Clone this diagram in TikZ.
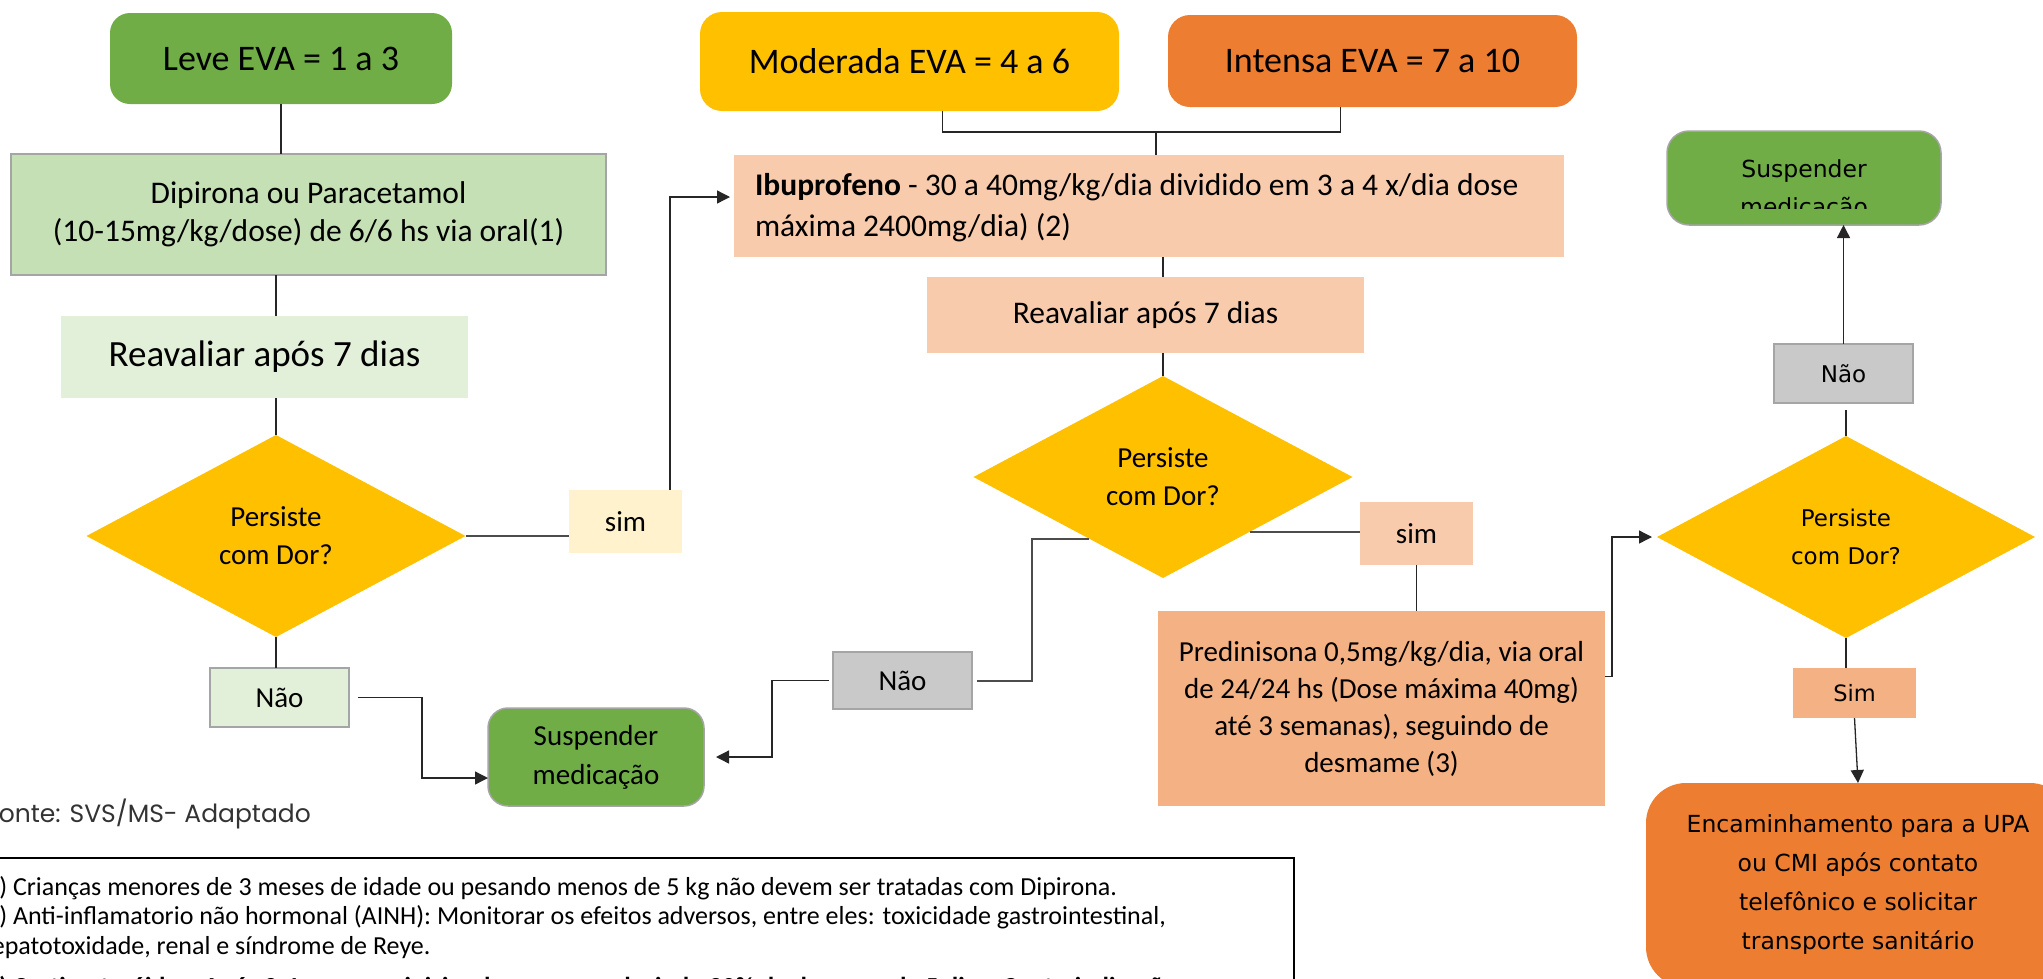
\documentclass[tikz,border=0pt]{standalone}
\usepackage{fontspec}
\setmainfont{Carlito}
\newfontfamily\verdana{DejaVu Sans}
\newfontfamily\gothic{Poppins}
\usetikzlibrary{shapes.geometric, arrows.meta}
\definecolor{cGreen}{HTML}{70AD47}
\definecolor{cGreenL}{HTML}{C5E0B4}
\definecolor{cGreenXL}{HTML}{E2F0D9}
\definecolor{cYellow}{HTML}{FFC000}
\definecolor{cYellowL}{HTML}{FFF2CC}
\definecolor{cOrange}{HTML}{ED7D31}
\definecolor{cPeach}{HTML}{F8CBAD}
\definecolor{cSalmon}{HTML}{F4B183}
\definecolor{cGray}{HTML}{C9C9C9}
\definecolor{cBorder}{HTML}{A5A5A5}
\newcommand\fsz[2]{\fontsize{#1}{#2}\selectfont}

\begin{document}
\begin{tikzpicture}[x=1pt, y=-1pt,
  box/.style={rectangle, inner sep=0pt, outer sep=0pt, align=center},
  rbox/.style={box, rounded corners=20pt},
  decision/.style={diamond, fill=cYellow, inner sep=0pt, outer sep=0pt, align=center, minimum width=379pt, minimum height=202pt},
  conn/.style={line width=1.3pt, black!85},
  connarrow/.style={conn, -{Triangle[length=13pt, width=13pt]}},
  notetext/.style={inner sep=0pt, anchor=base west, font=\fsz{26}{30}}]
  \useasboundingbox (0,0) rectangle (2043,978);

  % left column
  \node[rbox, fill=cGreen, minimum width=342pt, minimum height=91pt, font=\fsz{36}{43}] (leve) at (281,58.5) {Leve EVA = 1 a 3};
  \node[box, fill=cGreenL, draw=cBorder, line width=2pt, minimum width=595pt, minimum height=121pt, font=\fsz{31.5}{38}] (dipir) at (308.5,214.5) {Dipirona ou Paracetamol\\(10-15mg/kg/dose) de 6/6 hs via oral(1)};
  \node[box, fill=cGreenXL, minimum width=407pt, minimum height=82pt, font=\fsz{37}{44}] (reav1) at (264.5,357) {Reavaliar após 7 dias};
  \node[decision, font=\fsz{29}{38}] (dor1) at (276,536) {Persiste\\com Dor?};
  \node[box, fill=cYellowL, minimum width=113pt, minimum height=63pt, font=\fsz{29}{35}] (sim1) at (625.5,521.5) {sim};
  \node[box, fill=cGreenXL, draw=cBorder, line width=1.5pt, minimum width=139pt, minimum height=59pt, font=\fsz{29}{35}] (nao1) at (279.5,697.5) {Não};
  \node[rbox, fill=cGreen, draw=cBorder, line width=1.5pt, minimum width=216pt, minimum height=98pt, font=\fsz{29}{39}] (susp1) at (596,757) {Suspender\\medicação};

  % middle column
  \node[rbox, rounded corners=22pt, fill=cYellow, minimum width=419pt, minimum height=99pt, font=\fsz{36}{43}] (moder) at (909.5,61.5) {Moderada EVA = 4 a 6};
  \node[rbox, rounded corners=22pt, fill=cOrange, minimum width=409pt, minimum height=92pt, font=\fsz{36}{43}] (inten) at (1372.5,61) {Intensa EVA = 7 a 10};
  \node[box, fill=cPeach, minimum width=830pt, minimum height=102pt] (ibu) at (1149,206) {};
  \node[box, anchor=west, align=left, font=\fsz{31.5}{41}] (ibutxt) at ([xshift=21pt, yshift=-2pt]ibu.west) {\textbf{Ibuprofeno} - 30 a 40mg/kg/dia dividido em 3 a 4 x/dia dose\\máxima 2400mg/dia) (2)};
  \node[box, fill=cPeach, minimum width=437pt, minimum height=76pt, font=\fsz{31.5}{38}] (reav2) at (1145.5,315) {Reavaliar após 7 dias};
  \node[decision, font=\fsz{29}{38}] (dor2) at (1163,477) {Persiste\\com Dor?};
  \node[box, fill=cPeach, minimum width=113pt, minimum height=63pt, font=\fsz{29}{35}] (sim2) at (1416.5,533.5) {sim};
  \node[box, fill=cGray, draw=cBorder, line width=1.5pt, minimum width=139pt, minimum height=57pt, font=\fsz{29}{35}] (nao2) at (902.5,680.5) {Não};
  \node[box, fill=cSalmon, minimum width=447pt, minimum height=195pt, font=\fsz{29}{37}] (pred) at (1381.5,708.5) {Predinisona 0,5mg/kg/dia, via oral\\de 24/24 hs (Dose máxima 40mg)\\até 3 semanas), seguindo de\\desmame (3)};

  % right column
  \node[rbox, rounded corners=22pt, fill=cGreen, draw=cBorder, line width=1.5pt, minimum width=274pt, minimum height=94pt] (susp2) at (1804,178) {};
  \begin{scope}
    \clip (1667,131) rectangle (1941,208);
    \node[font=\verdana\fsz{23.5}{38}, align=center, inner sep=0pt] (susp2txt) at ([yshift=-12pt]susp2.center) {Suspender\\medicação};
  \end{scope}
  \node[box, fill=cGray, draw=cBorder, line width=1.5pt, minimum width=139pt, minimum height=59pt, font=\verdana\fsz{23}{28}] (nao3) at (1843.5,373.5) {Não};
  \node[decision, minimum width=378pt, font=\verdana\fsz{23}{38}] (dor3) at (1846,537) {Persiste\\com Dor?};
  \node[box, fill=cSalmon, minimum width=123pt, minimum height=50pt, font=\verdana\fsz{22.5}{28}] (sim3) at (1854.5,693) {Sim};
  \node[rbox, rounded corners=40pt, fill=cOrange, minimum width=424pt, minimum height=204pt, font=\verdana\fsz{23.5}{39}] (encam) at (1858,885) {Encaminhamento para a UPA\\ou CMI após contato\\telefônico e solicitar\\transporte sanitário};

  % connectors
  \draw[conn] (leve.south) -- (leve.south |- dipir.north);
  \draw[conn] (dor1.north |- dipir.south) -- (dor1.north |- reav1.north);
  \draw[conn] (dor1.north |- reav1.south) -- (dor1.north);
  \draw[conn, line width=2pt, black!70] (dor1.east) -- (dor1.east -| sim1.west);
  \draw[connarrow, shorten >=4pt] ([xshift=-12pt]sim1.north east) |- ([yshift=9pt]ibu.west);
  \draw[conn] (dor1.south) -- (dor1.south |- nao1.north);
  \draw[connarrow, shorten <=9pt] (nao1.east) -- ++(73,0) |- ([yshift=-21pt]susp1.west);

  \coordinate (evajoin) at (1156,132);
  \draw[conn] ([xshift=33pt]moder.south) |- (evajoin) -| ([xshift=-32pt]inten.south);
  \draw[conn] (evajoin) -- (evajoin |- ibu.north);
  \draw[conn] (dor2.north |- ibu.south) -- (dor2.north |- reav2.north);
  \draw[conn] (dor2.north |- reav2.south) -- (dor2.north);
  \draw[conn, line width=2pt, black!70] (dor2.-32) -- (dor2.-32 -| sim2.west);
  \draw[conn] (sim2.south) -- (sim2.south |- pred.north);
  \draw[conn, line width=2pt, black!70, shorten >=5pt] (dor2.220) -- ++(-57,0) |- (nao2.east);
  \draw[connarrow, shorten <=4pt, shorten >=12pt] (nao2.west) -- ++(-61,0) |- (susp1.east);

  \draw[connarrow, shorten >=5pt] ([yshift=32pt]pred.east) -- ++(7,0) |- (dor3.west);
  \draw[conn, shorten >=7pt] (dor3.north) -- (dor3.north |- nao3.south);
  \draw[connarrow] (nao3.north) -- (nao3.north |- susp2.south);
  \draw[conn] (dor3.south) -- (dor3.south |- sim3.north);
  \draw[connarrow] (sim3.south) -- (encam.north);

  % source and notes
  \node[anchor=base west, inner sep=0pt, font=\gothic\fsz{25}{30}, text=black!80] (fonte) at (-14,822) {Fonte: SVS/MS- Adaptado};
  \draw[line width=2.5pt] (-10,858) rectangle (1294,1040);
  \foreach \txt [count=\i] in {{(1) Crianças menores de 3 meses de idade ou pesando menos de 5 kg não devem ser tratadas com Dipirona.},
    {(2) Anti-inflamatorio não hormonal (AINH): Monitorar os efeitos adversos, entre eles: toxicidade gastrointestinal,},
    {hepatotoxidade, renal e síndrome de Reye.}}
    \node[notetext] (note\i) at (-22,{865.5+29.5*\i}) {\txt};
  \node[notetext, font=\bfseries\fsz{26}{30}] (note4) at (-22,995) {(3) Corticosteróides: Após 3-4 semanas iniciar desmame, reduzindo 20\% da dose a cada 5 dias. Contraindicação};
\end{tikzpicture}
\end{document}
